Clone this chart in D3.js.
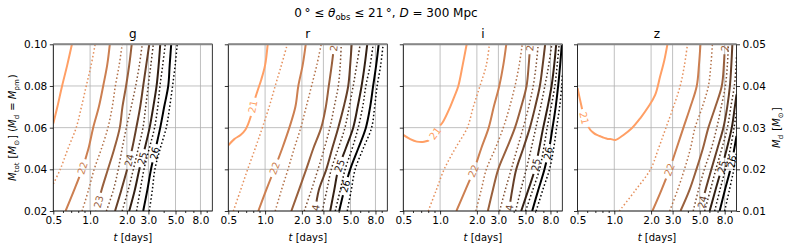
<!DOCTYPE html>
<html>
<head>
<meta charset="utf-8">
<script src="https://cdn.jsdelivr.net/npm/d3@7"></script>
<style>
  body { margin: 0; background: #fff; }
  svg text { font-family: "DejaVu Sans", sans-serif; }
</style>
</head>
<body>
<div id="chart"></div>
<script>
// Contour levels (AB magnitude), solid at integers, dotted at half values
var bands = ["g", "r", "i", "z"];
var levels = [21, 21.5, 22, 22.5, 23, 23.5, 24, 24.5, 25, 25.5, 26, 26.5];

// Axis ticks
var xTicks = [0.5, 1, 2, 3, 5, 8];
var xMinor = [0.6, 0.7, 0.8, 0.9, 4, 6, 7, 9];
var yTicks = [0.02, 0.04, 0.06, 0.08, 0.10];
var yRightTicks = [0.01, 0.02, 0.03, 0.04, 0.05];

// Contour lines: [t (days), M_tot], one array per level
var gLines = [
  [[0.5,0.062],[0.54,0.070],[0.59,0.080],[0.65,0.090],[0.71,0.100]],
  [[0.5,0.033],[0.57,0.04],[0.66,0.05],[0.77,0.06],[0.85,0.07],[0.93,0.08],[1.02,0.09],[1.10,0.10]],
  [[0.63,0.02],[0.74,0.03],[0.86,0.04],[0.97,0.05],[1.06,0.06],[1.18,0.07],[1.28,0.08],[1.38,0.09],[1.45,0.10]],
  [[0.86,0.02],[0.97,0.03],[1.08,0.04],[1.24,0.05],[1.40,0.06],[1.52,0.07],[1.61,0.08],[1.73,0.09],[1.83,0.10]],
  [[1.12,0.02],[1.24,0.03],[1.40,0.04],[1.58,0.05],[1.75,0.06],[1.84,0.07],[1.97,0.08],[2.09,0.09],[2.19,0.10]],
  [[1.36,0.02],[1.55,0.03],[1.70,0.04],[1.83,0.05],[1.98,0.06],[2.17,0.07],[2.36,0.08],[2.53,0.09],[2.67,0.10]],
  [[1.60,0.02],[1.80,0.03],[2.01,0.04],[2.21,0.05],[2.39,0.06],[2.57,0.07],[2.72,0.08],[2.88,0.09],[3.05,0.10]],
  [[1.83,0.02],[2.05,0.03],[2.26,0.04],[2.48,0.05],[2.71,0.06],[2.85,0.07],[2.99,0.08],[3.14,0.09],[3.29,0.10]],
  [[2.09,0.02],[2.32,0.03],[2.53,0.04],[2.80,0.05],[3.07,0.06],[3.29,0.07],[3.50,0.08],[3.64,0.09],[3.75,0.10]],
  [[2.40,0.02],[2.57,0.03],[2.76,0.04],[3.05,0.05],[3.37,0.06],[3.58,0.07],[3.73,0.08],[3.93,0.09],[4.12,0.10]],
  [[2.72,0.02],[2.94,0.03],[3.15,0.04],[3.44,0.05],[3.75,0.06],[4.04,0.07],[4.36,0.08],[4.48,0.09],[4.61,0.10]],
  [[3.05,0.02],[3.23,0.03],[3.39,0.04],[3.75,0.05],[4.20,0.06],[4.48,0.07],[4.73,0.08],[4.97,0.09],[5.16,0.10]]
];

var rLines = [
  [[0.5,0.0515],[0.56,0.0545],[0.63,0.0565],[0.69,0.059],[0.76,0.065],[0.80,0.071],[0.86,0.077],[0.93,0.083],[1.0,0.09],[1.05,0.10]],
  [[0.55,0.02],[0.63,0.03],[0.72,0.04],[0.83,0.05],[0.95,0.06],[1.08,0.07],[1.21,0.08],[1.36,0.09],[1.52,0.10]],
  [[0.88,0.02],[1.02,0.03],[1.19,0.04],[1.38,0.05],[1.58,0.06],[1.77,0.07],[1.87,0.08],[2.03,0.09],[2.15,0.10]],
  [[1.21,0.02],[1.36,0.03],[1.54,0.04],[1.73,0.05],[1.96,0.06],[2.17,0.07],[2.40,0.08],[2.65,0.09],[2.88,0.10]],
  [[1.64,0.02],[1.89,0.03],[2.17,0.04],[2.48,0.05],[2.88,0.06],[3.14,0.07],[3.32,0.08],[3.51,0.09],[3.68,0.10]],
  [[2.09,0.02],[2.39,0.03],[2.71,0.04],[3.05,0.05],[3.39,0.06],[3.68,0.07],[3.97,0.08],[4.12,0.09],[4.20,0.10]],
  [[2.57,0.02],[2.75,0.03],[3.17,0.04],[3.54,0.05],[3.97,0.06],[4.40,0.07],[4.79,0.08],[4.97,0.09],[5.11,0.10]],
  [[2.94,0.02],[3.20,0.03],[3.48,0.04],[3.97,0.05],[4.50,0.06],[4.88,0.07],[5.26,0.08],[5.62,0.09],[6.00,0.10]],
  [[3.41,0.02],[3.68,0.03],[3.97,0.04],[4.57,0.05],[5.26,0.06],[5.72,0.07],[6.16,0.08],[6.53,0.09],[6.85,0.10]],
  [[3.75,0.02],[4.12,0.03],[4.52,0.04],[5.16,0.05],[5.78,0.06],[6.29,0.07],[6.68,0.08],[7.24,0.09],[7.66,0.10]],
  [[4.04,0.02],[4.44,0.03],[4.97,0.04],[5.78,0.05],[6.68,0.06],[7.24,0.07],[7.66,0.08],[8.11,0.09],[8.50,0.10]],
  [[4.70,0.02],[5.07,0.03],[5.46,0.04],[6.35,0.05],[7.44,0.06],[7.88,0.07],[8.26,0.08],[8.83,0.09],[9.25,0.10]]
];

var iLines = [
  [[0.5,0.0565],[0.57,0.0545],[0.645,0.0533],[0.74,0.0532],[0.84,0.0545],[0.91,0.0573],[0.97,0.0600],[1.06,0.063],[1.21,0.070],[1.31,0.075],[1.41,0.080],[1.53,0.090],[1.65,0.100]],
  [[0.80,0.02],[0.93,0.03],[1.08,0.04],[1.33,0.05],[1.67,0.06],[1.87,0.07],[2.12,0.08],[2.39,0.09],[2.53,0.10]],
  [[1.36,0.02],[1.61,0.03],[1.90,0.04],[2.17,0.05],[2.50,0.06],[2.75,0.07],[3.05,0.08],[3.29,0.09],[3.48,0.10]],
  [[1.96,0.02],[2.17,0.03],[2.39,0.04],[2.83,0.05],[3.29,0.06],[3.71,0.07],[4.10,0.08],[4.44,0.09],[4.70,0.10]],
  [[2.46,0.02],[2.70,0.03],[2.99,0.04],[3.51,0.05],[4.10,0.06],[4.61,0.07],[5.10,0.08],[5.31,0.09],[5.46,0.10]],
  [[3.07,0.02],[3.41,0.03],[3.82,0.04],[4.28,0.05],[4.79,0.06],[5.31,0.07],[5.78,0.08],[6.11,0.09],[6.35,0.10]],
  [[3.66,0.02],[3.89,0.03],[4.20,0.04],[4.79,0.05],[5.43,0.06],[6.00,0.07],[6.55,0.08],[6.91,0.09],[7.24,0.10]],
  [[4.15,0.02],[4.57,0.03],[5.07,0.04],[5.57,0.05],[6.08,0.06],[6.65,0.07],[7.20,0.08],[7.74,0.09],[8.20,0.10]],
  [[4.61,0.02],[5.26,0.03],[5.97,0.04],[6.47,0.05],[6.98,0.06],[7.59,0.07],[8.17,0.08],[8.58,0.09],[8.91,0.10]],
  [[5.01,0.02],[5.72,0.03],[6.51,0.04],[7.04,0.05],[7.52,0.06],[8.11,0.07],[8.69,0.08],[9.08,0.09],[9.43,0.10]],
  [[5.67,0.02],[6.35,0.03],[7.15,0.04],[7.81,0.05],[8.32,0.06],[8.83,0.07],[9.25,0.08],[9.60,0.09],[9.91,0.10]],
  [[6.11,0.02],[6.91,0.03],[7.85,0.04],[8.50,0.05],[8.98,0.06],[9.51,0.07],[9.89,0.08],[10,0.085]]
];

var zLines = [
  [[0.5,0.079],[0.54,0.070],[0.567,0.0645],[0.635,0.059],[0.676,0.0575],[0.72,0.0565],[0.757,0.056],[0.816,0.0552],[0.848,0.0549],[0.90,0.0545],[0.93,0.0546],[1.02,0.0541],[1.19,0.0565],[1.39,0.0597],[1.63,0.0645],[1.90,0.070],[2.16,0.0757],[2.37,0.0845],[2.57,0.0925],[2.72,0.100]],
  [[1.10,0.02],[1.49,0.03],[1.98,0.04],[2.30,0.05],[2.65,0.06],[3.05,0.07],[3.46,0.08],[3.75,0.09],[3.97,0.10]],
  [[2.05,0.02],[2.43,0.03],[2.83,0.04],[3.23,0.05],[3.68,0.06],[4.20,0.07],[4.73,0.08],[4.93,0.09],[5.07,0.10]],
  [[2.84,0.02],[3.29,0.03],[3.75,0.04],[4.20,0.05],[4.58,0.06],[5.26,0.07],[5.89,0.08],[6.17,0.09],[6.35,0.10]],
  [[3.48,0.02],[4.12,0.03],[4.70,0.04],[5.31,0.05],[5.89,0.06],[6.72,0.07],[7.58,0.08],[7.88,0.09],[8.03,0.10]],
  [[4.42,0.02],[4.88,0.03],[5.46,0.04],[6.23,0.05],[6.90,0.06],[7.50,0.07],[8.11,0.08],[8.42,0.09],[8.58,0.10]],
  [[5.02,0.02],[5.57,0.03],[6.23,0.04],[6.98,0.05],[7.81,0.06],[8.40,0.07],[8.83,0.08],[9.07,0.09],[9.25,0.10]],
  [[5.49,0.02],[6.11,0.03],[6.78,0.04],[7.59,0.05],[8.42,0.06],[8.99,0.07],[9.60,0.08],[9.93,0.09],[10,0.095]],
  [[6.03,0.02],[6.72,0.03],[7.52,0.04],[8.34,0.05],[9.15,0.06],[9.69,0.07],[10,0.076]],
  [[6.63,0.02],[7.31,0.03],[8.11,0.04],[8.91,0.05],[9.55,0.06],[10,0.068]],
  [[7.28,0.02],[8.03,0.03],[8.91,0.04],[9.60,0.05],[10,0.056]],
  [[8.00,0.02],[8.74,0.03],[9.51,0.04],[10,0.048]]
];

// Inline contour labels: [level, t, M_tot]
var gLabels = [[22,0.875,0.0405],[23,1.16,0.0245],[24,2.04,0.0445],[25,2.67,0.0453],[26,3.37,0.0477]];
var rLabels = [[21,0.80,0.070],[22,1.20,0.0405],[23,3.68,0.0997],[24,2.55,0.0201],[25,4.23,0.0413],[26,4.66,0.0317]];
var iLabels = [[21,0.91,0.0573],[22,1.92,0.0389],[23,5.46,0.0997],[24,3.49,0.0201],[25,6.11,0.0421],[26,7.62,0.0477]];
var zLabels = [[21,0.567,0.0645],[22,2.85,0.0397],[23,8.03,0.0997],[24,5.11,0.0245],[25,7.52,0.0413],[26,9.15,0.0437]];

var panelLines = [gLines, rLines, iLines, zLines];
var panelLabels = [gLabels, rLabels, iLabels, zLabels];

// Layout
var svgWidth = 788;
var svgHeight = 251;
var panelX = [53.3, 228.3, 403.3, 577.5];
var panelTop = 44.3;
var chartW = 159;
var chartH = 166.7;

var svg = d3.select("#chart")
  .append("svg")
  .attr("width", svgWidth)
  .attr("height", svgHeight);

var defs = svg.append("defs");

// Shared scales
var xScale = d3.scaleLog().domain([0.5, 10]).range([0, chartW]);
var yScale = d3.scaleLinear().domain([0.02, 0.10]).range([chartH, 0]);
var yRightScale = d3.scaleLinear().domain([0.01, 0.05]).range([chartH, 0]);

// reversed copper colormap
function copper(v) {
  v = Math.max(0, Math.min(1, v));
  return d3.rgb(Math.min(1, 1.25 * v) * 255, 0.7812 * v * 255, 0.4975 * v * 255).formatHex();
}
function levelColor(L) { return copper((26 - L) / 6.25); }

var lineGen = d3.line()
  .x(d => xScale(d[0]))
  .y(d => yScale(d[1]))
  .curve(d3.curveCatmullRom.alpha(0.5));

// nearest point on a polyline, with the local direction
function project(pts, px, py) {
  var best = { d: Infinity };
  for (var i = 0; i < pts.length - 1; i++) {
    var x1 = pts[i][0], y1 = pts[i][1], x2 = pts[i + 1][0], y2 = pts[i + 1][1];
    var dx = x2 - x1, dy = y2 - y1, len2 = dx * dx + dy * dy;
    var u = len2 ? ((px - x1) * dx + (py - y1) * dy) / len2 : 0;
    u = Math.max(0, Math.min(1, u));
    var qx = x1 + u * dx, qy = y1 + u * dy;
    var d = (qx - px) * (qx - px) + (qy - py) * (qy - py);
    if (d < best.d) {
      var a = Math.atan2(dy, dx) * 180 / Math.PI;
      if (a > 90) a -= 180;
      if (a < -90) a += 180;
      best = { d: d, x: qx, y: qy, a: a };
    }
  }
  return best;
}

function styleAxis(g) {
  g.select(".domain").remove();
  g.selectAll("line").attr("stroke", "#000").attr("stroke-width", 0.8);
  g.selectAll("text").attr("font-family", "DejaVu Sans, sans-serif").attr("font-size", 10.5).attr("fill", "#000");
  g.attr("font-family", null);
}

bands.forEach(function(band, p) {
  var pg = svg.append("g").attr("transform", `translate(${panelX[p]}, ${panelTop})`);

  defs.append("clipPath").attr("id", "clip-" + band)
    .append("rect").attr("width", chartW).attr("height", chartH);

  // grid
  pg.append("g").selectAll("line").data(xTicks).enter().append("line")
    .attr("x1", d => xScale(d)).attr("x2", d => xScale(d))
    .attr("y1", 0).attr("y2", chartH)
    .attr("stroke", "#b0b0b0").attr("stroke-width", 0.8);
  pg.append("g").selectAll("line").data(yTicks).enter().append("line")
    .attr("x1", 0).attr("x2", chartW)
    .attr("y1", d => yScale(d)).attr("y2", d => yScale(d))
    .attr("stroke", "#b0b0b0").attr("stroke-width", 0.8);

  var plot = pg.append("g").attr("clip-path", `url(#clip-${band})`);
  var lines = panelLines[p];
  var labs = panelLabels[p];

  levels.forEach(function(L, k) {
    var col = levelColor(L);
    var dotted = L % 1 !== 0;
    var path = plot.append("path")
      .datum(lines[k])
      .attr("d", lineGen)
      .attr("fill", "none")
      .attr("stroke", col)
      .attr("stroke-width", dotted ? 1.5 : 2)
      .attr("stroke-dasharray", dotted ? "1.5,2.3" : null);

    var myLabs = labs.filter(l => l[0] === L);
    if (myLabs.length) {
      var pts = lines[k].map(d => [xScale(d[0]), yScale(d[1])]);
      var maskId = `mask-${band}-${k}`;
      var mask = defs.append("mask").attr("id", maskId)
        .attr("maskUnits", "userSpaceOnUse")
        .attr("x", -20).attr("y", -20).attr("width", chartW + 40).attr("height", chartH + 40);
      mask.append("rect")
        .attr("x", -20).attr("y", -20).attr("width", chartW + 40).attr("height", chartH + 40)
        .attr("fill", "white");
      myLabs.forEach(function(l) {
        var pos = project(pts, xScale(l[1]), yScale(l[2]));
        var tr = `translate(${pos.x}, ${pos.y}) rotate(${pos.a})`;
        var txt = plot.append("text")
          .attr("transform", tr)
          .attr("text-anchor", "middle")
          .attr("dy", "0.36em")
          .attr("font-size", 10)
          .attr("fill", col)
          .text(L);
        var len = txt.node().getComputedTextLength();
        mask.append("rect")
          .attr("x", -len / 2 - 3).attr("y", -5)
          .attr("width", len + 6).attr("height", 10)
          .attr("transform", tr)
          .attr("fill", "black");
      });
      path.attr("mask", `url(#${maskId})`);
    }
  });

  // x axis
  pg.append("g").attr("transform", `translate(0, ${chartH})`)
    .call(d3.axisBottom(xScale).tickValues(xMinor).tickFormat("").tickSize(2))
    .call(styleAxis);
  pg.append("g").attr("transform", `translate(0, ${chartH})`)
    .call(d3.axisBottom(xScale).tickValues(xTicks).tickFormat(d3.format(".1f")).tickSize(3.5).tickPadding(2.5))
    .call(styleAxis);

  // left y axis, labels only on the first panel
  pg.append("g")
    .call(d3.axisLeft(yScale).tickValues(yTicks)
      .tickFormat(p === 0 ? d3.format(".2f") : "").tickSize(3.5).tickPadding(2.5))
    .call(styleAxis);

  // right axis on the last panel (M_d)
  if (p === bands.length - 1) {
    pg.append("g").attr("transform", `translate(${chartW}, 0)`)
      .call(d3.axisRight(yRightScale).tickValues(yRightTicks)
        .tickFormat(d3.format(".2f")).tickSize(3.5).tickPadding(2.5))
      .call(styleAxis);
  }

  // spines
  pg.append("rect")
    .attr("width", chartW).attr("height", chartH)
    .attr("fill", "none").attr("stroke", "#000").attr("stroke-width", 0.8);
  pg.append("line")
    .attr("x1", 0).attr("x2", chartW).attr("y1", 0).attr("y2", 0)
    .attr("stroke", "#888").attr("stroke-width", 2);

  // band title
  pg.append("text")
    .attr("x", chartW / 2).attr("y", -6)
    .attr("text-anchor", "middle")
    .attr("font-size", 12)
    .text(band);

  // x label
  var xl = pg.append("text")
    .attr("x", chartW / 2).attr("y", chartH + 30)
    .attr("text-anchor", "middle")
    .attr("font-size", 10);
  xl.append("tspan").attr("font-style", "italic").text("t");
  xl.append("tspan").text(" [days]");
});

// math-like labels: italic symbols and small subscripts
function subLabel(sel, parts) {
  parts.forEach(function(part) {
    if (part[1] === "i") sel.append("tspan").attr("font-style", "italic").text(part[0]);
    else if (part[1] === "s") {
      sel.append("tspan").attr("font-size", 7).attr("dy", 2.5).text(part[0]);
      sel.append("tspan").attr("dy", -2.5).text("\u200a");
    }
    else sel.append("tspan").text(part[0]);
  });
}

var yLab = svg.append("text")
  .attr("transform", `translate(16, ${panelTop + chartH / 2}) rotate(-90)`)
  .attr("text-anchor", "middle")
  .attr("font-size", 10);
subLabel(yLab, [["M","i"],["tot","s"],[" [",""],["M","i"],["\u2299","s"],["] (",""],["M","i"],["d","s"],[" = ",""],["M","i"],["pm","s"],[")",""]]);

var yRLab = svg.append("text")
  .attr("transform", `translate(780, ${panelTop + chartH / 2}) rotate(-90)`)
  .attr("text-anchor", "middle")
  .attr("font-size", 10);
subLabel(yRLab, [["M","i"],["d","s"],[" [",""],["M","i"],["\u2299","s"],["]",""]]);

// figure title
var title = svg.append("text")
  .attr("x", 386).attr("y", 17)
  .attr("text-anchor", "middle")
  .attr("font-size", 12);
title.append("tspan").text("0\u2009\u00b0 \u2264 ");
title.append("tspan").attr("font-style", "italic").text("\u03b8");
title.append("tspan").attr("font-size", 8.5).attr("dy", 2.5).text("obs");
title.append("tspan").attr("dy", -2.5).text(" \u2264 21\u2009\u00b0, ");
title.append("tspan").attr("font-style", "italic").text("D");
title.append("tspan").text(" = 300 Mpc");
</script>
</body>
</html>
